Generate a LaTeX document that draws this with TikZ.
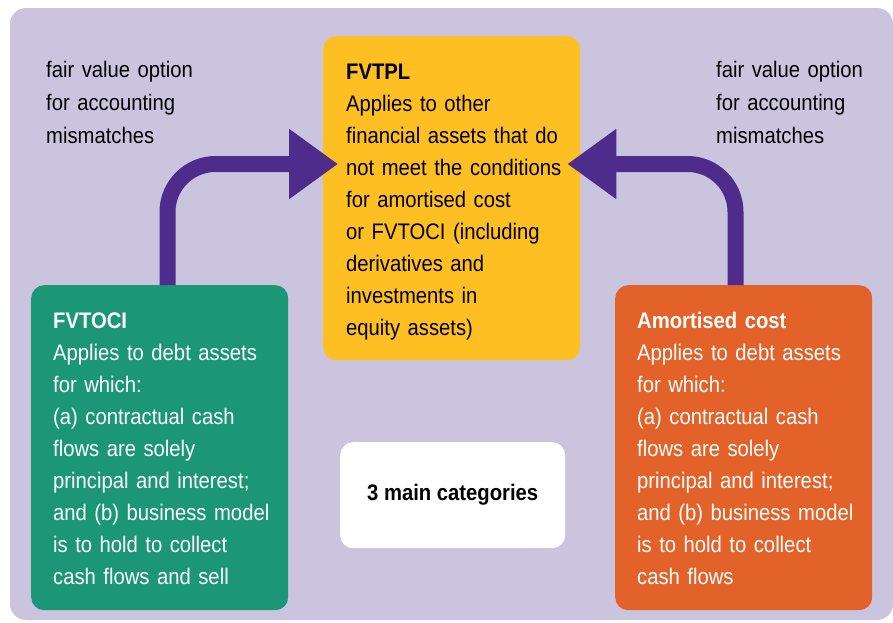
\documentclass[tikz,border=0pt]{standalone}
\usepackage{fontspec}
\setmainfont[FakeStretch=0.9]{Liberation Sans}
\usetikzlibrary{arrows.meta}
\definecolor{bglav}{HTML}{CBC4DF}
\definecolor{fvyellow}{HTML}{FDBF22}
\definecolor{fvgreen}{HTML}{1B9677}
\definecolor{fvorange}{HTML}{E2622A}
\definecolor{arrowpurple}{HTML}{4D2C8C}
\tikzset{
  box/.style={rectangle, rounded corners=13pt, inner sep=0pt, anchor=north west},
  txt/.style={inner sep=0pt, anchor=north west, align=left, text width=250pt,
    font=\fontsize{22.5}{32}\selectfont},
  sidetxt/.style={txt, font=\fontsize{22.5}{33}\selectfont},
  bigarrow/.style={line width=16pt, draw=arrowpurple, rounded corners=48pt,
    -{Triangle[length=49pt,width=67pt]}}
}
\begin{document}
\begin{tikzpicture}[x=1pt,y=-1pt]
\useasboundingbox (0,0) rectangle (893,622);
\fill[bglav, rounded corners=16pt] (10,8) rectangle (893,620);

% boxes
\node[box, fill=fvyellow, minimum width=257pt, minimum height=324pt] (fvtpl) at (323,36) {};
\node[box, fill=fvgreen, minimum width=257pt, minimum height=325pt] (fvtoci) at (31,285) {};
\node[box, fill=fvorange, minimum width=257pt, minimum height=325pt] (amort) at (615,285) {};
\node[box, fill=white, minimum width=225pt, minimum height=106pt,
  font=\fontsize{22.5}{32}\selectfont\bfseries] (cats) at (340,442) {3 main categories};

% texts
\node[sidetxt] (lfv) at (46,53.9) {\strut fair value option\\for accounting\\mismatches};
\node[sidetxt] (rfv) at (716,53.9) {\strut fair value option\\for accounting\\mismatches};
\node[txt, text=black] (fvtpltxt) at (346,56.6) {\strut\textbf{FVTPL}\\Applies to other\\financial assets that do\\not meet the conditions\\for amortised cost\\or FVTOCI (including\\derivatives and\\investments in\\equity assets)};
\node[txt, text=white] (fvtocitxt) at (53,305.6) {\strut\textbf{FVTOCI}\\Applies to debt assets\\for which:\\(a) contractual cash\\flows are solely\\principal and interest;\\and (b) business model\\is to hold to collect\\cash flows and sell};
\node[txt, text=white] (amorttxt) at (637,305.6) {\strut\textbf{Amortised cost}\\Applies to debt assets\\for which:\\(a) contractual cash\\flows are solely\\principal and interest;\\and (b) business model\\is to hold to collect\\cash flows};

% arrows
\coordinate (lshaft) at (167.5,164);
\coordinate (rshaft) at (735.5,164);
\draw[bigarrow] (fvtoci.north -| lshaft) |- ([xshift=15pt]fvtpl.west |- lshaft);
\draw[bigarrow] (amort.north -| rshaft) |- ([xshift=-13pt]fvtpl.east |- rshaft);
\end{tikzpicture}
\end{document}
